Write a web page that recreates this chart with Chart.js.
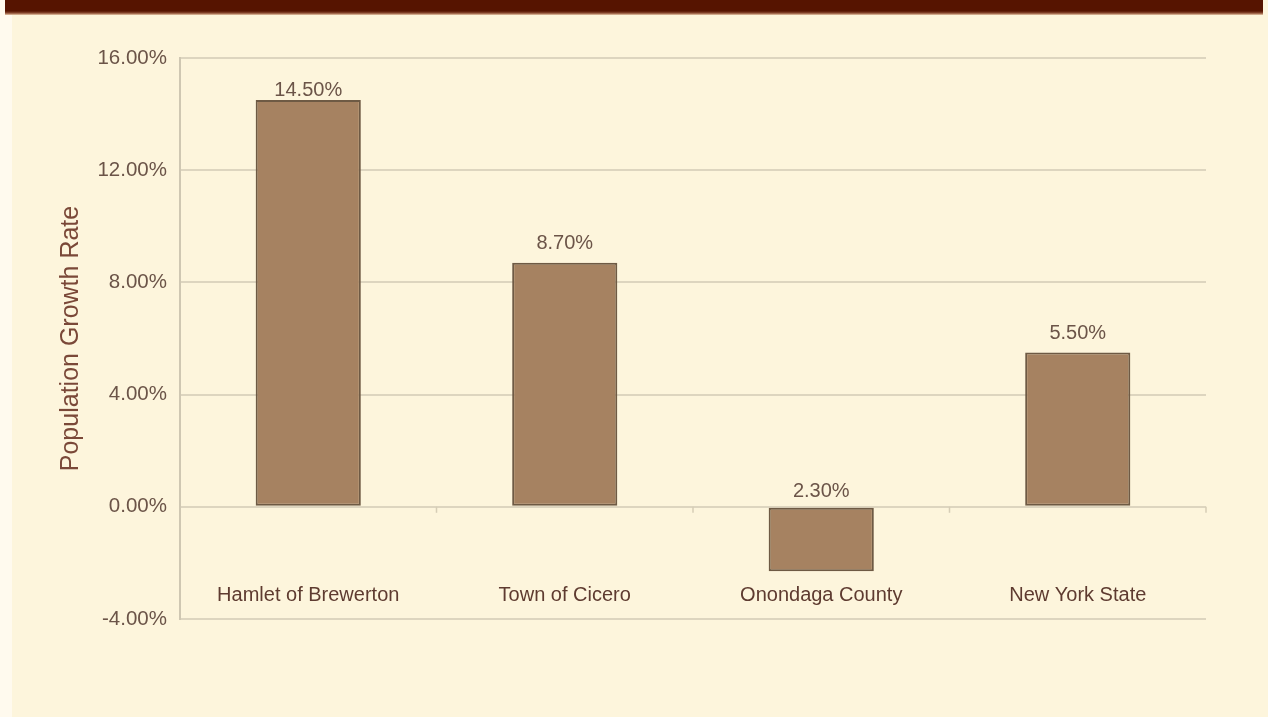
<!DOCTYPE html>
<html>
<head>
<meta charset="utf-8">
<script src="https://cdn.jsdelivr.net/npm/chart.js@4/dist/chart.umd.min.js"></script>
<style>
  html, body { margin: 0; padding: 0; }
  body { width: 1268px; height: 717px; background: #fdf5dc; position: relative; overflow: hidden; }
  #edge { position: absolute; left: 0; top: 0; width: 12px; height: 717px; background: #fffaee; }
  #banner { position: absolute; left: 5px; top: 0; width: 1258px; height: 15px;
            background: linear-gradient(#561400 0, #561400 11px, #8a4a30 13px, #e8c8a8 15px); }
  #wrap { position: absolute; left: 0; top: 0; width: 1268px; height: 717px; }
</style>
</head>
<body>
<div id="edge"></div>
<div id="banner"></div>
<div id="wrap"><canvas id="growthChart"></canvas></div>
<script>
(function() {

  'use strict';

  var categories = ['Hamlet of Brewerton', 'Town of Cicero', 'Onondaga County', 'New York State'];
  var growthRates = [14.5, 8.7, -2.3, 5.5];
  var yTicks = [-4, 0, 4, 8, 12, 16];

  var fontFamily = 'Arial, "Liberation Sans", sans-serif';

  // value labels over the bars (shown without sign, like the original)
  // plus the category names, which sit inside the plot below the zero line
  var valueLabels = {
    id: 'valueLabels',
    afterDatasetsDraw: function(chart) {
      var ctx = chart.ctx;
      var meta = chart.getDatasetMeta(0);
      var xScale = chart.scales.x;
      var yScale = chart.scales.y;
      var zeroY = yScale.getPixelForValue(0);
      ctx.save();
      ctx.font = '20px ' + fontFamily;
      ctx.fillStyle = '#6b5448';
      ctx.textAlign = 'center';
      ctx.textBaseline = 'middle';
      meta.data.forEach(function(bar, i) {
        var v = growthRates[i];
        var y = v >= 0 ? bar.y - 19 : zeroY - 15;
        y = Math.max(y, chart.chartArea.top + 32);
        ctx.fillText(Math.abs(v).toFixed(2) + '%', bar.x, y);
      });
      ctx.font = '20px ' + fontFamily;
      ctx.fillStyle = '#5e3b30';
      var labelY = yScale.getPixelForValue(-4) - 24;
      categories.forEach(function(name, i) {
        ctx.fillText(name, xScale.getPixelForValue(i), labelY);
      });
      ctx.restore();
    }
  };

  // little category tick marks hanging off the zero line
  var zeroTicks = {
    id: 'zeroTicks',
    beforeDatasetsDraw: function(chart) {
      var ctx = chart.ctx;
      var xScale = chart.scales.x;
      var zeroY = chart.scales.y.getPixelForValue(0);
      var step = xScale.getPixelForValue(1) - xScale.getPixelForValue(0);
      ctx.save();
      ctx.strokeStyle = '#d6cdb6';
      ctx.lineWidth = 1.5;
      for (var i = 0; i < categories.length; i++) {
        var x = xScale.getPixelForValue(i) + step / 2;
        ctx.beginPath();
        ctx.moveTo(x, zeroY);
        ctx.lineTo(x, zeroY + 6);
        ctx.stroke();
      }
      ctx.restore();
    }
  };

  var ctx = document.getElementById('growthChart').getContext('2d');
  var growthChart = new Chart(ctx, {
    type: 'bar',
    data: {
      labels: categories,
      datasets: [{
        data: growthRates,
        backgroundColor: '#a68261',
        borderColor: '#6e5a44',
        borderWidth: 2,
        borderSkipped: false,
        barPercentage: 0.41,
        categoryPercentage: 1
      }]
    },
    options: {
      responsive: true,
      maintainAspectRatio: false,
      animation: false,
      layout: { padding: { top: 58, right: 62, left: 0, bottom: 0 } },
      plugins: {
        legend: { display: false },
        tooltip: { enabled: false }
      },
      scales: {
        x: {
          grid: { display: false, drawTicks: false },
          border: { display: false },
          ticks: { display: false },
          afterFit: function(scale) { scale.height = 98; }
        },
        y: {
          min: -4,
          max: 16,
          afterBuildTicks: function(scale) {
            scale.ticks = yTicks.map(function(v) { return { value: v }; });
          },
          grid: { color: '#ddd5bf', lineWidth: 2, drawTicks: false },
          border: { display: true, color: '#cfc7b2', width: 2 },
          ticks: {
            padding: 13,
            color: '#6b5448',
            font: { family: fontFamily, size: 20.5 },
            callback: function(v) { return v.toFixed(2) + '%'; }
          },
          title: {
            display: true,
            text: 'Population Growth Rate',
            color: '#7a4838',
            font: { family: fontFamily, size: 25 },
            padding: { top: 56, bottom: 0 }
          },
          afterFit: function(scale) { scale.width = 180; }
        }
      }
    },
    plugins: [zeroTicks, valueLabels]
  });

})();
</script>
</body>
</html>
